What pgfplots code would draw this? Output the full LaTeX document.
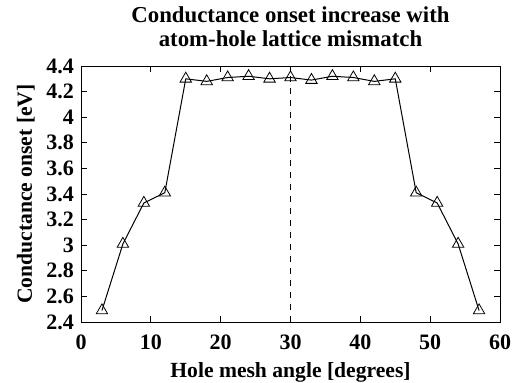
\documentclass[border=0pt]{standalone}
\usepackage{fontspec}
\setmainfont{Liberation Serif}
\usepackage{pgfplots}
\pgfplotsset{compat=1.18}
\begin{document}
\begin{tikzpicture}
\begin{axis}[
  name=ax,
  scale only axis,
  width=209.5pt, height=128pt,
  xmin=0, xmax=60, ymin=2.4, ymax=4.4,
  xtick={0,10,...,60},
  ytick={2.4,2.6,...,4.41},
  yticklabel style={/pgf/number format/fixed, /pgf/number format/precision=1},
  /pgf/number format/assume math mode=true,
  tick align=inside,
  tick style={black, line width=0.4pt},
  major tick length=3pt,
  axis line style={line width=0.5pt},
  ticklabel style={font=\fontsize{11}{12}\selectfont\bfseries},
  xticklabel style={yshift=-3pt},
  xlabel={Hole mesh angle [degrees]},
  ylabel={Conductance onset [eV]},
  label style={font=\fontsize{10.8}{12}\selectfont\bfseries},
  title style={font=\fontsize{11.4}{12}\selectfont\bfseries, align=center, yshift=0pt},
  title={Conductance onset increase with\\atom-hole lattice mismatch},
  xlabel style={yshift=0.8pt},
  ylabel style={yshift=-1pt},
]
\addplot[black, line width=0.5pt, mark=triangle, mark size=3.3pt, mark options={solid, line width=0.4pt}] coordinates {
(3,2.49) (6,3.01) (9,3.33) (12,3.41) (15,4.30) (18,4.28) (21,4.31) (24,4.32)
(27,4.30) (30,4.31) (33,4.29) (36,4.32) (39,4.31) (42,4.28) (45,4.30)
(48,3.41) (51,3.33) (54,3.01) (57,2.49)
};
\addplot[black, dashed, line width=0.5pt] coordinates {(30,2.4) (30,4.4)};
\end{axis}
\pgfresetboundingbox
\path ([shift={(-40.5pt,-30pt)}]ax.south west) rectangle ([shift={(6pt,33pt)}]ax.north east);
\end{tikzpicture}
\end{document}
